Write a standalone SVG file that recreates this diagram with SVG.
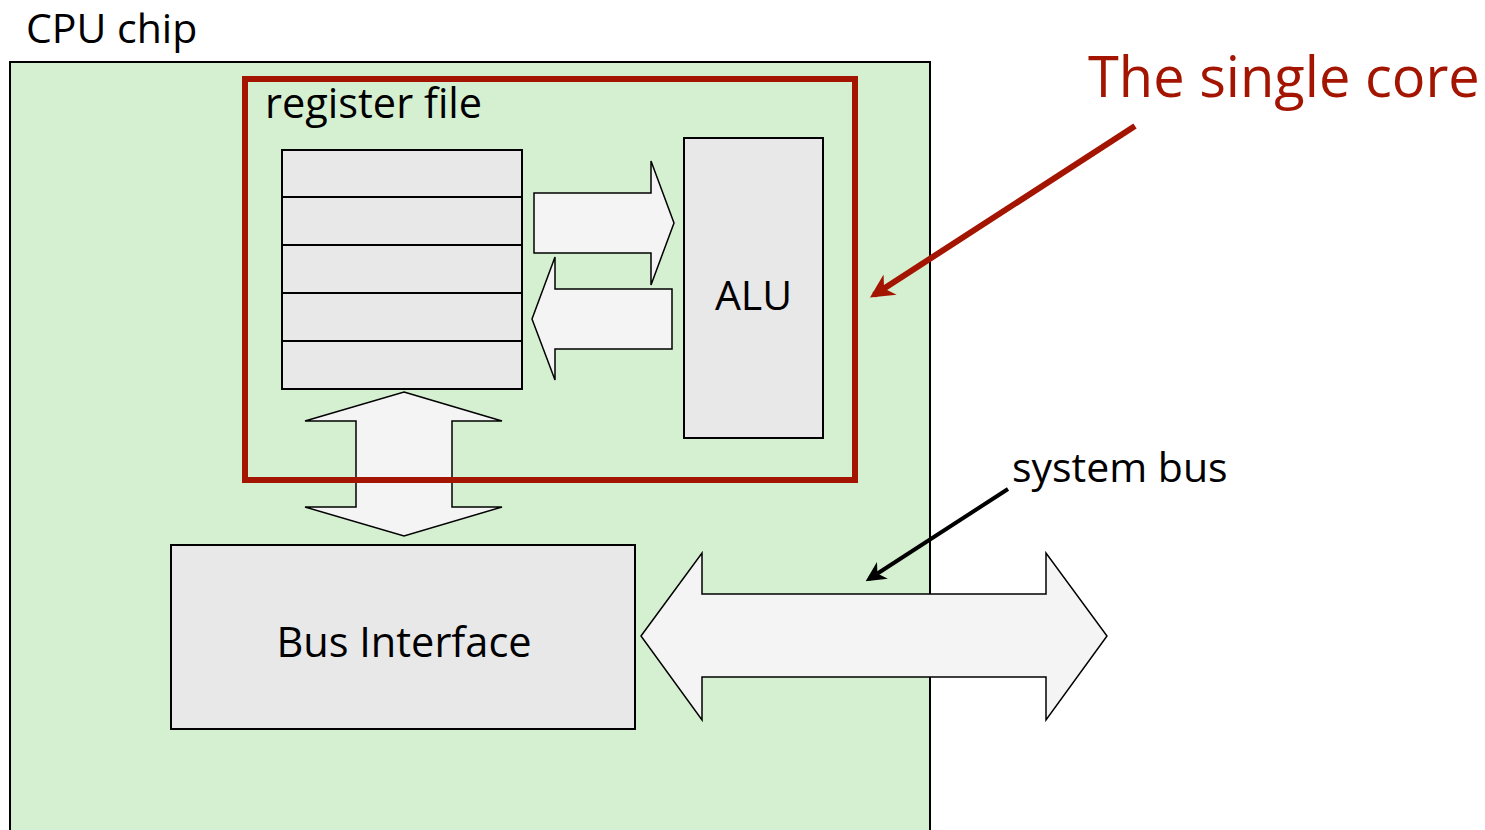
<svg xmlns="http://www.w3.org/2000/svg" width="1485" height="830" viewBox="0 0 1485 830">
<style>
text{font-family:"Open Sans","Noto Sans","Liberation Sans",sans-serif;fill:#000}
.box{fill:#e8e8e8;stroke:#000;stroke-width:2}
.fat{fill:#f4f4f4;stroke:#000;stroke-width:1.5;stroke-linejoin:miter}
</style>
<defs>
<marker id="redHead" viewBox="0 0 10 10" refX="8" refY="5" markerWidth="4" markerHeight="4" orient="auto" markerUnits="strokeWidth">
<path d="M0,0 L10,5 L0,10 L3,5 z" fill="#a31500"/>
</marker>
<marker id="blackHead" viewBox="0 0 10 10" refX="8" refY="5" markerWidth="5" markerHeight="5" orient="auto" markerUnits="strokeWidth">
<path d="M0,0 L10,5 L0,10 L3,5 z" fill="#000"/>
</marker>
</defs>
<g id="cpu-chip">
<rect x="10" y="62" width="920" height="780" fill="#d5f0d0" stroke="#000" stroke-width="2"/>
<text x="26" y="43" font-size="41">CPU chip</text>
</g>
<g id="register-file">
<rect class="box" x="282" y="150" width="240" height="239"/>
<line x1="282" y1="197" x2="522" y2="197" stroke="#000" stroke-width="2"/>
<line x1="282" y1="245" x2="522" y2="245" stroke="#000" stroke-width="2"/>
<line x1="282" y1="293" x2="522" y2="293" stroke="#000" stroke-width="2"/>
<line x1="282" y1="341" x2="522" y2="341" stroke="#000" stroke-width="2"/>
</g>
<g id="alu">
<rect class="box" x="684" y="138" width="139" height="300"/>
<text x="753.5" y="310" font-size="41" text-anchor="middle">ALU</text>
</g>
<g id="bus-interface">
<rect class="box" x="171" y="545" width="464" height="184"/>
<text x="404" y="657" font-size="41.5" text-anchor="middle">Bus Interface</text>
</g>
<g id="connectors">
<polygon class="fat" points="534,193 651,193 651,161 674,223 651,285 651,253 534,253"/>
<polygon class="fat" points="672,289 555,289 555,257 532,319 555,380 555,349 672,349"/>
<polygon class="fat" points="404,392 502,421 452,421 452,507 502,507 404,536 305,507 356,507 356,421 305,421"/>
<polygon class="fat" points="641,636 702,553 702,594 1046,594 1046,553 1107,636 1046,720 1046,677 702,677 702,720"/>
<line x1="1135" y1="126" x2="874" y2="295" stroke="#a31500" stroke-width="6" marker-end="url(#redHead)"/>
<line x1="1008" y1="489" x2="869" y2="579" stroke="#000" stroke-width="4" marker-end="url(#blackHead)"/>
</g>
<g id="core">
<rect x="245" y="79" width="610" height="401" fill="none" stroke="#a31500" stroke-width="6"/>
<text x="265" y="118" font-size="41.5">register file</text>
</g>
<g id="labels">
<text x="1088" y="97" font-size="56" style="fill:#a31500">The single core</text>
<text x="1012" y="482" font-size="41">system bus</text>
</g>
</svg>
